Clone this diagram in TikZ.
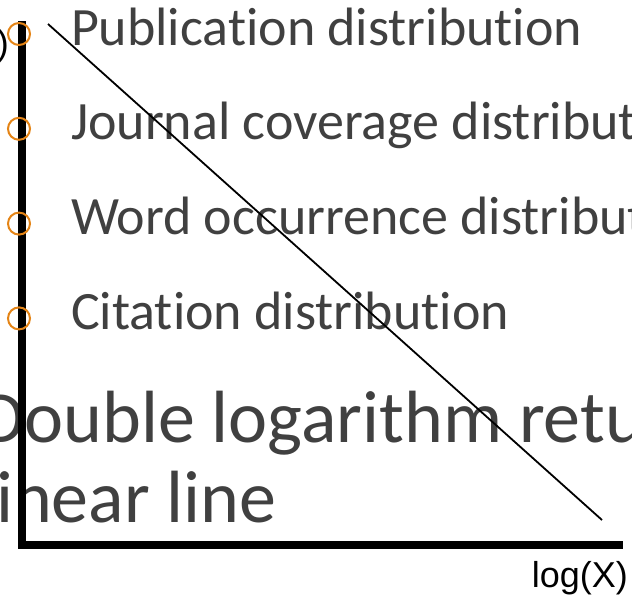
\documentclass[tikz,border=0pt]{standalone}
\usepackage{fontspec}
\setmainfont{Carlito}[RawFeature={-liga}]
\newfontfamily\axisfont{Liberation Sans}
\usetikzlibrary{positioning}
\definecolor{textgray}{HTML}{404040}
\definecolor{bulletorange}{RGB}{228,132,22}
\tikzstyle{item}=[font=\fontsize{54}{60}\selectfont, text=textgray, inner sep=0pt, outer sep=0pt, text height=36pt, text depth=14pt]
\tikzstyle{bullet}=[circle, draw=bulletorange, line width=2pt, minimum size=22pt, inner sep=0pt, outer sep=0pt]
\tikzstyle{bigtext}=[font=\fontsize{74}{80}\selectfont, text=textgray, inner sep=0pt, align=left]
\tikzstyle{axislabel}=[font=\axisfont\fontsize{36}{40}\selectfont, inner sep=0pt]
\tikzstyle{axis}=[line width=7.5pt]
\tikzstyle{trend}=[line width=1.8pt]
\begin{document}
\begin{tikzpicture}[x=1pt,y=-1pt]
    \useasboundingbox (0,0) rectangle (632,600);
    % list of distributions
    \node (pub)  [item, anchor=base west] at (71,45) {Publication distribution};
    \node (jour) [item, below=44.8pt of pub.south west, anchor=north west]  {Journal coverage distribution};
    \node (word) [item, below=44.8pt of jour.south west, anchor=north west] {Word occurrence distribution};
    \node (cite) [item, below=44.8pt of word.south west, anchor=north west] {Citation distribution};
    \node (dbl)  [bigtext, anchor=base west] at (-21,522) {Double logarithm returns a\\linear line};
    % axes
    \node (ylab) [axislabel, anchor=base east] at (9,55)   {log(Y)};
    \node (xlab) [axislabel, anchor=base east] at (628,587) {log(X)};
    \coordinate (ytop)   at (22,21);
    \coordinate (origin) at (22,545);
    \coordinate (xend)   at (623,545);
    \draw [axis] (ytop) -- (origin) -- (xend);
    \coordinate (dstart) at (48,24);
    \coordinate (dend)   at (602,520);
    \draw [trend] (dstart) -- (dend);
    % bullets
    \node (bpub)  [bullet, left=41pt of pub]  {};
    \node (bjour) [bullet, left=41pt of jour] {};
    \node (bword) [bullet, left=41pt of word] {};
    \node (bcite) [bullet, left=41pt of cite] {};
\end{tikzpicture}
\end{document}
